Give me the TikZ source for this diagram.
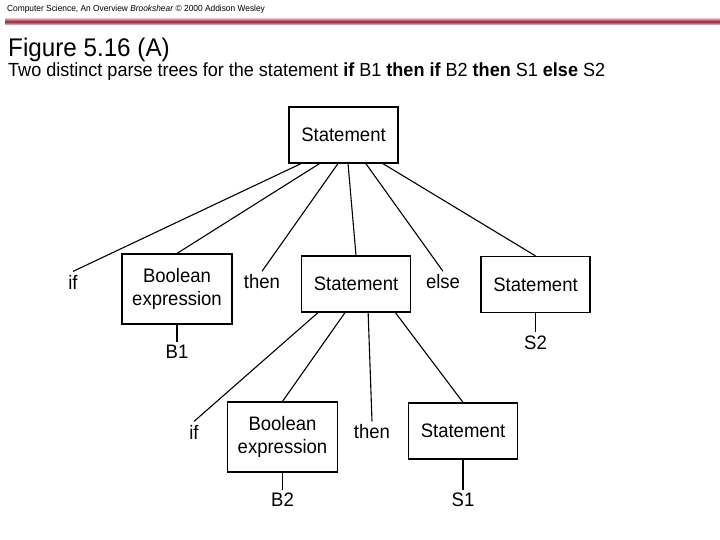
\documentclass[tikz,border=0pt]{standalone}
\usepackage{fontspec}
\setmainfont[FakeStretch=0.95]{Liberation Sans}
\usetikzlibrary{positioning}
\definecolor{bannerred}{RGB}{150,30,55}
\definecolor{bannerpink}{RGB}{235,200,205}

\begin{document}
\begin{tikzpicture}[x=1pt, y=1pt, node distance=149pt, font=\fontsize{19.5}{23}\selectfont]
  \tikzstyle{nonterm} = [rectangle, minimum width=109pt, minimum height=56pt, text centered, draw=black, line width=1.2pt]
  \tikzstyle{boolnt} = [rectangle, minimum width=110pt, minimum height=70pt, align=center, draw=black, line width=1.2pt]
  \tikzstyle{terminal} = []
  \tikzstyle{branch} = [line width=1.1pt]
  \tikzstyle{heading} = [anchor=base west, inner sep=0pt]

  \useasboundingbox (0,0) rectangle (720,-540);

  % slide header
  \node (credit) [heading, font=\fontsize{8.8}{10}\selectfont] at (7,-12) {Computer Science, An Overview \textit{Brookshear} \copyright\ 2000 Addison Wesley};
  \shade [top color=bannerpink, bottom color=bannerpink, middle color=bannerred] (5,-18) rectangle (720,-25);
  \node (title) [heading, font=\fontsize{25.5}{30}\selectfont] at (8,-57) {Figure 5.16 (A)};
  \node (subtitle) [heading, font=\fontsize{19}{22}\selectfont] at (8,-77) {Two distinct parse trees for the statement \textbf{if} B1 \textbf{then if} B2 \textbf{then} S1 \textbf{else} S2};

  \node (top) [nonterm] at (343.5,-135) {Statement};
  \node (bool1) [boolnt, below of=top, node distance=154pt, xshift=-166.5pt] {Boolean\\expression};
  \node (stmt2) [nonterm, below of=top, xshift=12.5pt] {Statement};
  \node (stmt3) [nonterm, below of=top, node distance=149.5pt, xshift=192pt] {Statement};
  \node (if1) [terminal, left of=bool1, node distance=104pt, yshift=7pt] {if};
  \node (then1) [terminal, right of=bool1, node distance=85pt, yshift=7pt] {then};
  \node (else) [terminal, right of=stmt2, node distance=87pt, yshift=2pt] {else};
  \node (b1) [terminal, below of=bool1, node distance=63pt] {B1};
  \node (s2) [terminal, below of=stmt3, node distance=58pt] {S2};
  \node (bool2) [boolnt, below of=stmt2, node distance=153pt, xshift=-73.5pt] {Boolean\\expression};
  \node (stmt4) [nonterm, below of=stmt2, node distance=147pt, xshift=107pt] {Statement};
  \node (if2) [terminal, left of=bool2, node distance=88.5pt, yshift=5pt] {if};
  \node (then2) [terminal, right of=bool2, node distance=89.5pt, yshift=5pt] {then};
  \node (b2) [terminal, below of=bool2, node distance=63pt] {B2};
  \node (s1) [terminal, below of=stmt4, node distance=69pt] {S1};

  % outer if-then-else
  \draw [branch] (top.-146) -- (if1.north);
  \draw [branch] (top.-130) -- (bool1.north);
  \draw [branch] (top.-101) -- (then1.north);
  \draw [branch] (top.-81) -- (stmt2.north);
  \draw [branch] (top.-52.5) -- (else.north);
  \draw [branch] (top.-36) -- (stmt3.north);
  \draw [branch] (bool1) -- (b1);
  \draw [branch] (stmt3) -- (s2);
  % inner if-then
  \draw [branch] (stmt2.-143.4) -- (if2.north);
  \draw [branch] (stmt2.-111) -- (bool2.north);
  \draw [branch] (stmt2.-67.5) -- (then2.north);
  \draw [branch] (stmt2.-36.6) -- (stmt4.north);
  \draw [branch] (bool2) -- (b2);
  \draw [branch] (stmt4) -- (s1);
\end{tikzpicture}
\end{document}
